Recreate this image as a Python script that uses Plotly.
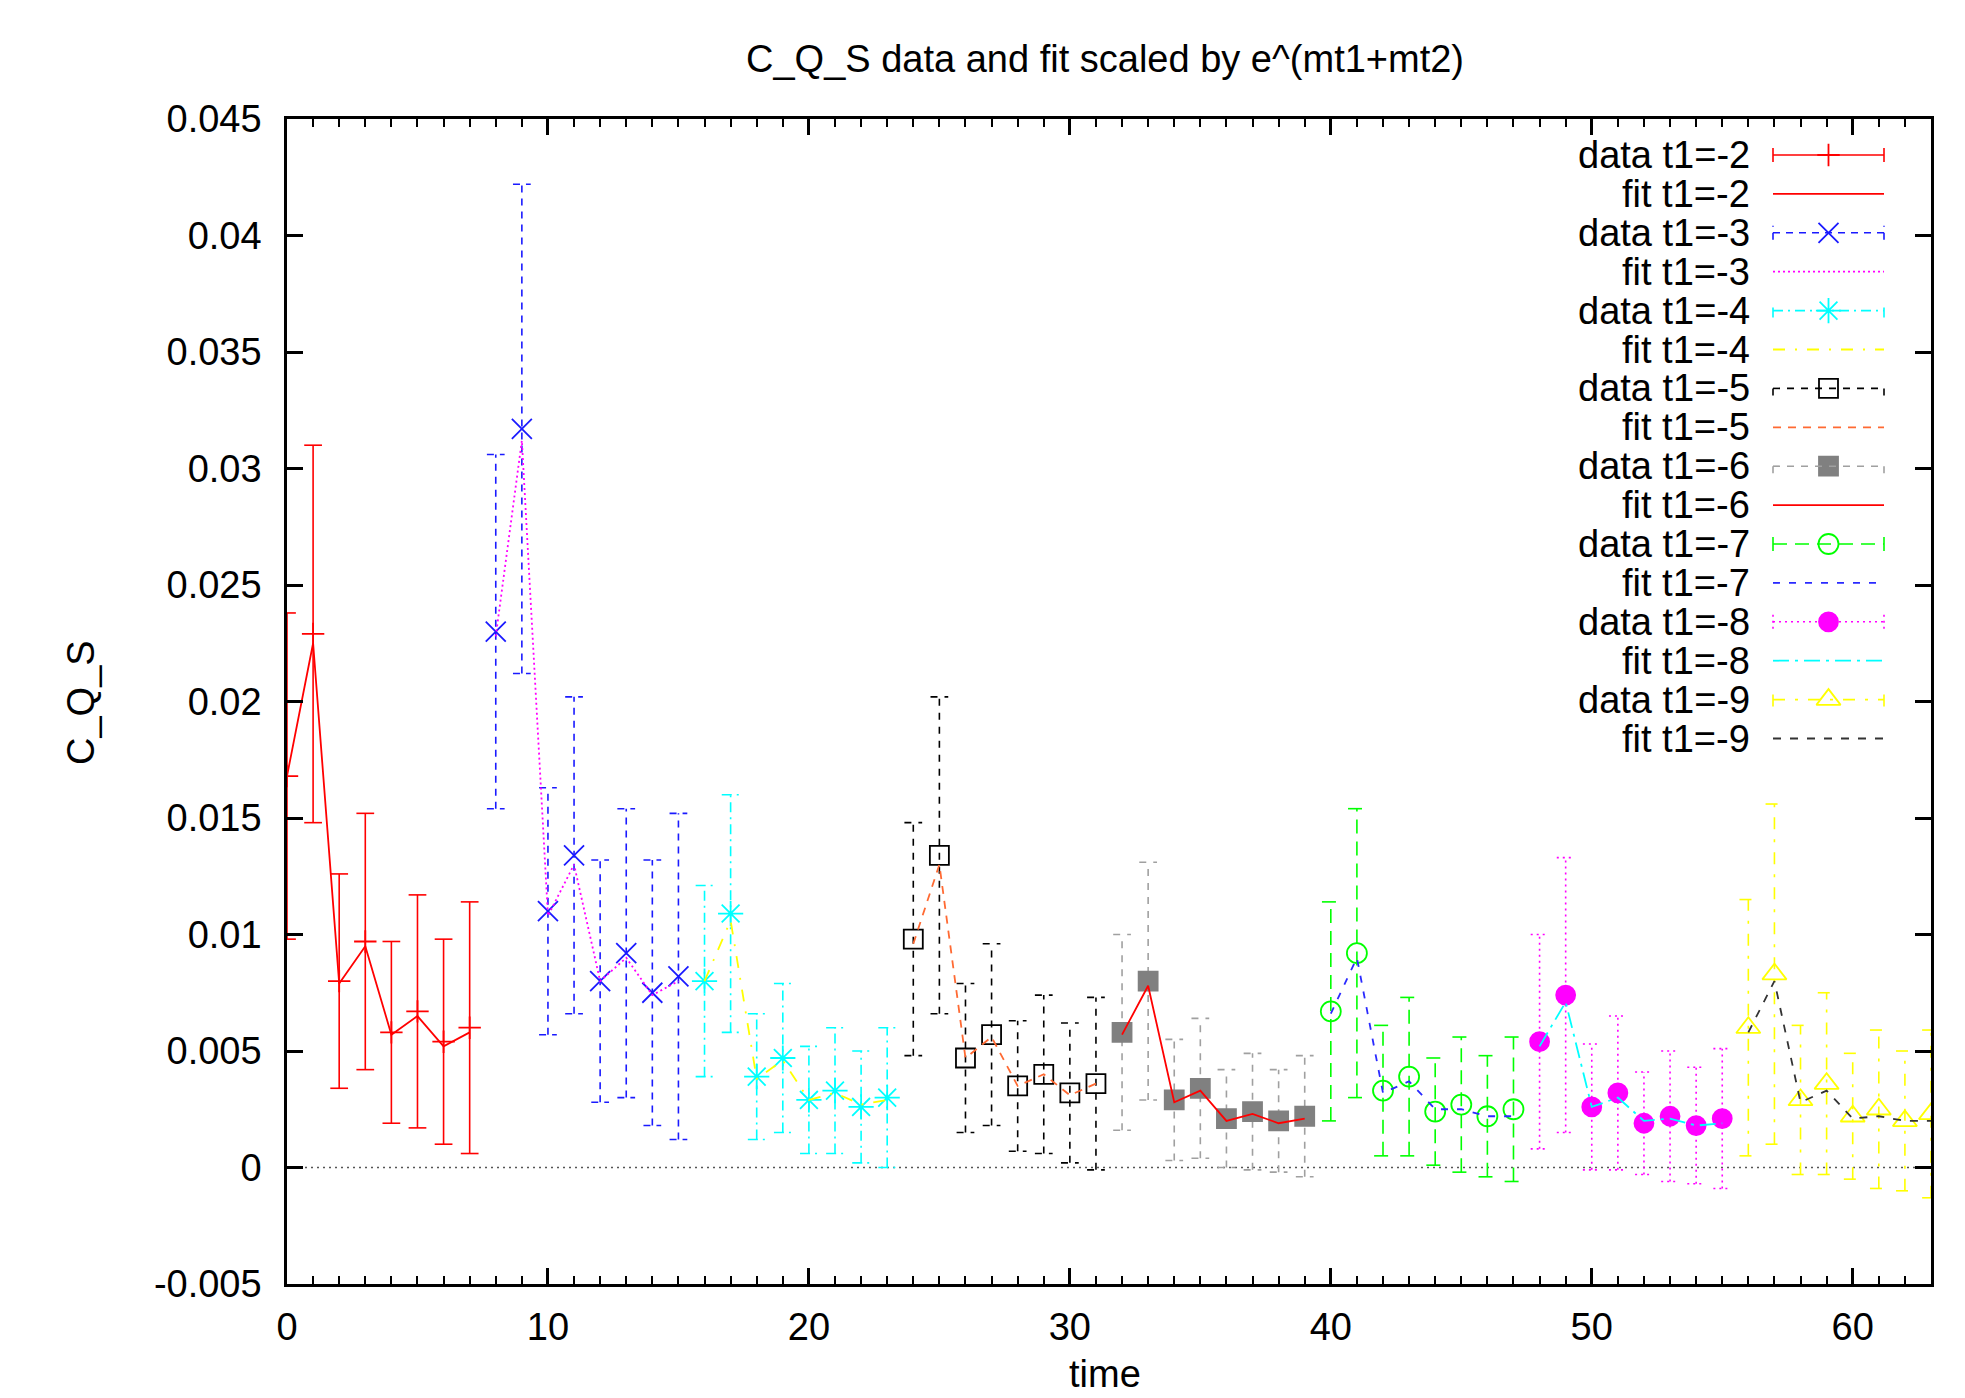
import plotly.graph_objects as go

# ---------------- data ----------------
title_text = "C_Q_S data and fit scaled by e^(mt1+mt2)"
x_label = "time"
y_label = "C_Q_S"

series_labels = ["t1=-2", "t1=-3", "t1=-4", "t1=-5", "t1=-6", "t1=-7", "t1=-8", "t1=-9"]

time_t2 = [0, 1, 2, 3, 4, 5, 6, 7]
data_t2 = [0.0168, 0.0229, 0.0080, 0.0097, 0.0058, 0.0067, 0.0054, 0.0060]
err_t2 = [0.0070, 0.0081, 0.0046, 0.0055, 0.0039, 0.0050, 0.0044, 0.0054]
fit_t2 = [0.0168, 0.0225, 0.0079, 0.0095, 0.0057, 0.0065, 0.0052, 0.0058]

time_t3 = [8, 9, 10, 11, 12, 13, 14, 15]
data_t3 = [0.0230, 0.0317, 0.0110, 0.0134, 0.0080, 0.0092, 0.0075, 0.0082]
err_t3 = [0.0076, 0.0105, 0.0053, 0.0068, 0.0052, 0.0062, 0.0057, 0.0070]
fit_t3 = [0.0228, 0.0312, 0.0108, 0.0130, 0.0080, 0.0090, 0.0074, 0.0080]

time_t4 = [16, 17, 18, 19, 20, 21, 22, 23]
data_t4 = [0.0080, 0.0109, 0.0039, 0.0047, 0.0029, 0.0033, 0.0026, 0.0030]
err_t4 = [0.0041, 0.0051, 0.0027, 0.0032, 0.0023, 0.0027, 0.0024, 0.0030]
fit_t4 = [0.0080, 0.0106, 0.0038, 0.0046, 0.0029, 0.0032, 0.0027, 0.0029]

time_t5 = [24, 25, 26, 27, 28, 29, 30, 31]
data_t5 = [0.0098, 0.0134, 0.0047, 0.0057, 0.0035, 0.0040, 0.0032, 0.0036]
err_t5 = [0.0050, 0.0068, 0.0032, 0.0039, 0.0028, 0.0034, 0.0030, 0.0037]
fit_t5 = [0.0096, 0.0130, 0.0047, 0.0056, 0.0035, 0.0040, 0.0031, 0.0036]

time_t6 = [32, 33, 34, 35, 36, 37, 38, 39]
data_t6 = [0.0058, 0.0080, 0.0029, 0.0034, 0.0021, 0.0024, 0.0020, 0.0022]
err_t6 = [0.0042, 0.0051, 0.0026, 0.0030, 0.0021, 0.0025, 0.0022, 0.0026]
fit_t6 = [0.0057, 0.0078, 0.0028, 0.0033, 0.0020, 0.0023, 0.0019, 0.0021]

time_t7 = [40, 41, 42, 43, 44, 45, 46, 47]
data_t7 = [0.0067, 0.0092, 0.0033, 0.0039, 0.0024, 0.0027, 0.0022, 0.0025]
err_t7 = [0.0047, 0.0062, 0.0028, 0.0034, 0.0023, 0.0029, 0.0026, 0.0031]
fit_t7 = [0.0066, 0.0090, 0.0032, 0.0037, 0.0025, 0.0025, 0.0022, 0.0022]

time_t8 = [48, 49, 50, 51, 52, 53, 54, 55]
data_t8 = [0.0054, 0.0074, 0.0026, 0.0032, 0.0019, 0.0022, 0.0018, 0.0021]
err_t8 = [0.0046, 0.0059, 0.0027, 0.0033, 0.0022, 0.0028, 0.0025, 0.0030]
fit_t8 = [0.0052, 0.0071, 0.0026, 0.0030, 0.0020, 0.0021, 0.0018, 0.0019]

time_t9 = [56, 57, 58, 59, 60, 61, 62, 63]
data_t9 = [0.0060, 0.0083, 0.0029, 0.0036, 0.0022, 0.0025, 0.0020, 0.0023]
err_t9 = [0.0055, 0.0073, 0.0032, 0.0039, 0.0027, 0.0034, 0.0030, 0.0036]
fit_t9 = [0.0058, 0.0080, 0.0028, 0.0033, 0.0021, 0.0022, 0.0020, 0.0020]

x_ticks = [0, 10, 20, 30, 40, 50, 60]
y_ticks = [-0.005, 0, 0.005, 0.01, 0.015, 0.02, 0.025, 0.03, 0.035, 0.04, 0.045]
y_tick_labels = ["-0.005", "0", "0.005", "0.01", "0.015", "0.02", "0.025", "0.03", "0.035", "0.04", "0.045"]

all_times = [time_t2, time_t3, time_t4, time_t5, time_t6, time_t7, time_t8, time_t9]
all_data = [data_t2, data_t3, data_t4, data_t5, data_t6, data_t7, data_t8, data_t9]
all_err = [err_t2, err_t3, err_t4, err_t5, err_t6, err_t7, err_t8, err_t9]
all_fit = [fit_t2, fit_t3, fit_t4, fit_t5, fit_t6, fit_t7, fit_t8, fit_t9]

# ---------------- styles ----------------
styles = [
    dict(dc="#ff0000", dd="solid", sym="cross-thin-open", ms=16, fit_c="#ff0000", fit_d="solid"),
    dict(dc="#1a1aff", dd="7px,6px", sym="x-thin-open", ms=20, fit_c="#ff00ff", fit_d="2px,3px"),
    dict(dc="#00ffff", dd="10px,5px,2px,5px", sym="asterisk-open", ms=21, fit_c="#ffff00", fit_d="12px,10px,2px,10px"),
    dict(dc="#000000", dd="7px,7px", sym="square-open", ms=19, fit_c="#ff6a33", fit_d="8px,7px"),
    dict(dc="#a0a0a0", dd="7px,7px", sym="square", ms=19, fit_c="#ff0000", fit_d="solid"),
    dict(dc="#00ff00", dd="14px,8px", sym="circle-open", ms=20, fit_c="#2a2aff", fit_d="7px,9px"),
    dict(dc="#ff00ff", dd="2px,4px", sym="circle", ms=19, fit_c="#00ffff", fit_d="16px,6px,3px,6px"),
    dict(dc="#ffff00", dd="12px,10px,3px,10px", sym="triangle-up-open", ms=21, fit_c="#333333", fit_d="8px,9px"),
]
marker_colors = ["#ff0000", "#1a1aff", "#00ffff", "#000000", "#808080", "#00ff00", "#ff00ff", "#ffff00"]

W, H = 1965, 1398
L, R, T, B = 287, 1931, 119, 1284
PW, PH = R - L, B - T
FONT = "Liberation Sans, Arial, Helvetica, sans-serif"
FS = 38
CAP = 0.34  # errorbar cap half-width in time units

fig = go.Figure()


def errbar_xy(xs, ys, es):
    ex, ey = [], []
    for x, y, e in zip(xs, ys, es):
        ex += [x, x, None, x - CAP, x + CAP, None, x - CAP, x + CAP, None]
        ey += [y - e, y + e, None, y + e, y + e, None, y - e, y - e, None]
    return ex, ey


for i in range(8):
    st = styles[i]
    xs, ys, es, fs = all_times[i], all_data[i], all_err[i], all_fit[i]
    ex, ey = errbar_xy(xs, ys, es)
    fig.add_trace(go.Scatter(x=ex, y=ey, mode="lines",
                             line=dict(color=st["dc"], width=1.6, dash=st["dd"]),
                             hoverinfo="skip", showlegend=False))
    mline = dict(color=marker_colors[i], width=1.8)
    fig.add_trace(go.Scatter(x=xs, y=ys, mode="markers",
                             marker=dict(symbol=st["sym"], size=st["ms"], color=marker_colors[i], line=mline),
                             name="data " + series_labels[i], showlegend=False))
    fig.add_trace(go.Scatter(x=xs, y=fs, mode="lines",
                             line=dict(color=st["fit_c"], width=1.8, dash=st["fit_d"]),
                             name="fit " + series_labels[i], showlegend=False))

shapes = []
# dotted zero axis
shapes.append(dict(type="line", xref="paper", x0=0, x1=1, yref="y", y0=0, y1=0,
                   line=dict(color="#555555", width=1.6, dash="2px,4px"), layer="below"))

# ---------------- custom legend (text left, sample right) ----------------
annotations = []
leg_text_right = (1752 - L) / PW
sx0 = (1773 - L) / PW
sx1 = (1884 - L) / PW
sxm = (sx0 + sx1) / 2
row0, step = 155, 38.9
cap_h = 7 / PH

entries = []
for i in range(8):
    entries.append(("data", i))
    entries.append(("fit", i))

for k, (kind, i) in enumerate(entries):
    st = styles[i]
    ypx = row0 + k * step
    yp = (B - ypx) / PH
    annotations.append(dict(text=f"{kind} {series_labels[i]}", xref="paper", yref="paper",
                            x=leg_text_right, y=yp, xanchor="right", yanchor="middle",
                            showarrow=False, font=dict(family=FONT, size=FS, color="black")))
    if kind == "data":
        lc, ld = st["dc"], st["dd"]
        shapes.append(dict(type="line", xref="paper", yref="paper", x0=sx0, x1=sx1, y0=yp, y1=yp,
                           line=dict(color=lc, width=1.6, dash=ld)))
        for xx in (sx0, sx1):
            shapes.append(dict(type="line", xref="paper", yref="paper", x0=xx, x1=xx,
                               y0=yp - cap_h, y1=yp + cap_h, line=dict(color=lc, width=1.6, dash=ld)))
        fig.add_trace(go.Scatter(x=[sxm], y=[yp], mode="markers", xaxis="x2", yaxis="y2",
                                 marker=dict(symbol=st["sym"], size=st["ms"], color=marker_colors[i],
                                             line=dict(color=marker_colors[i], width=1.8)),
                                 hoverinfo="skip", showlegend=False, cliponaxis=False))
    else:
        shapes.append(dict(type="line", xref="paper", yref="paper", x0=sx0, x1=sx1, y0=yp, y1=yp,
                           line=dict(color=st["fit_c"], width=1.8, dash=st["fit_d"])))

# titles
annotations.append(dict(text=title_text, xref="paper", yref="paper", x=(1105 - L) / PW, y=(B - 59) / PH,
                        xanchor="center", yanchor="middle", showarrow=False,
                        font=dict(family=FONT, size=FS, color="black")))
annotations.append(dict(text=x_label, xref="paper", yref="paper", x=(1105 - L) / PW, y=(B - 1374) / PH,
                        xanchor="center", yanchor="middle", showarrow=False,
                        font=dict(family=FONT, size=FS, color="black")))
annotations.append(dict(text=y_label, xref="paper", yref="paper", x=(81 - L) / PW, y=(B - 702) / PH,
                        xanchor="center", yanchor="middle", showarrow=False, textangle=-90,
                        font=dict(family=FONT, size=FS, color="black")))

axis_common = dict(showgrid=False, zeroline=False, showline=True, linecolor="black", linewidth=2.5,
                   mirror="allticks", ticks="inside", ticklen=16, tickwidth=2.5, tickcolor="black",
                   tickfont=dict(family=FONT, size=FS, color="black"))

fig.update_layout(
    width=W, height=H,
    margin=dict(l=L, r=W - R, t=T, b=H - B, pad=0),
    paper_bgcolor="white", plot_bgcolor="white",
    showlegend=False,
    xaxis=dict(range=[0, 63], tickvals=x_ticks, ticklabelstandoff=8,
               minor=dict(dtick=1, tick0=0, ticks="inside", ticklen=8, tickwidth=2, tickcolor="black"),
               **axis_common),
    yaxis=dict(range=[-0.005, 0.045], tickvals=y_ticks, ticktext=y_tick_labels, ticklabelstandoff=15,
               **axis_common),
    xaxis2=dict(range=[0, 1], overlaying="x", visible=False),
    yaxis2=dict(range=[0, 1], overlaying="y", visible=False),
    shapes=shapes,
    annotations=annotations,
)

fig.write_html("out.html")
